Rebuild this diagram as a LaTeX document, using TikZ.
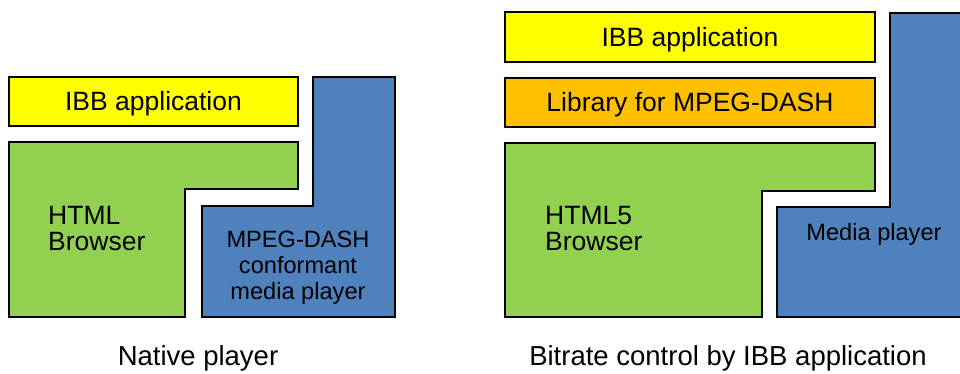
\documentclass[tikz,border=0pt]{standalone}
\usepackage{fontspec}
\setmainfont{Liberation Sans}
\usetikzlibrary{positioning}
\definecolor{ibbyellow}{RGB}{255,255,0}
\definecolor{libaorange}{RGB}{255,192,0}
\definecolor{browsergreen}{RGB}{146,208,80}
\definecolor{playerblue}{RGB}{79,129,189}

\begin{document}
\begin{tikzpicture}[
  x=1pt, y=-1pt,
  layer/.style={
    draw=black, line width=2.6pt, inner sep=0pt,
    text height=19pt, text depth=0pt,
    font=\fontsize{26.5}{26}\selectfont
  },
  shapeline/.style={draw=black, line width=2.6pt, line join=miter},
  label/.style={font=\fontsize{26.5}{26}\selectfont, align=left, inner sep=0pt},
  plabel/.style={font=\fontsize{23.6}{26}\selectfont, align=center, inner sep=0pt},
  caption/.style={font=\fontsize{27.5}{28}\selectfont, inner sep=0pt}
]
  \useasboundingbox (0,0) rectangle (960,374);

  % native player
  \node[layer, fill=ibbyellow, minimum width=289pt, minimum height=49pt] (appL) at (153.5,101.5) {IBB application};
  \filldraw[shapeline, fill=browsergreen] (9,142) -- (298,142) -- (298,189) -- (185,189) -- (185,317) -- (9,317) -- cycle;
  \filldraw[shapeline, fill=playerblue] (313,77) -- (395,77) -- (395,317) -- (202,317) -- (202,206) -- (313,206) -- cycle;
  \node[label, anchor=west] (browserL) at (48,229) {HTML\\Browser};
  \node[plabel] (playerL) at (298,268) {MPEG-DASH\\conformant\\media player};
  \node[caption] (capL) at (198,358) {Native player};

  % bitrate control by the application
  \node[layer, fill=ibbyellow, minimum width=370pt, minimum height=50pt] (appR) at (690,37) {IBB application};
  \node[layer, fill=libaorange, minimum width=370pt, minimum height=49pt] (libR) at (690,102.5) {Library for MPEG-DASH};
  \filldraw[shapeline, fill=browsergreen] (505,143) -- (875,143) -- (875,191) -- (762,191) -- (762,317) -- (505,317) -- cycle;
  \filldraw[shapeline, fill=playerblue] (890,13) -- (975,13) -- (975,317) -- (777,317) -- (777,207) -- (890,207) -- cycle;
  \node[label, anchor=west] (browserR) at (545,229) {HTML5\\Browser};
  \node[plabel] (playerR) at (874,234) {Media player};
  \node[caption] (capR) at (728,358) {Bitrate control by IBB application};
\end{tikzpicture}
\end{document}
